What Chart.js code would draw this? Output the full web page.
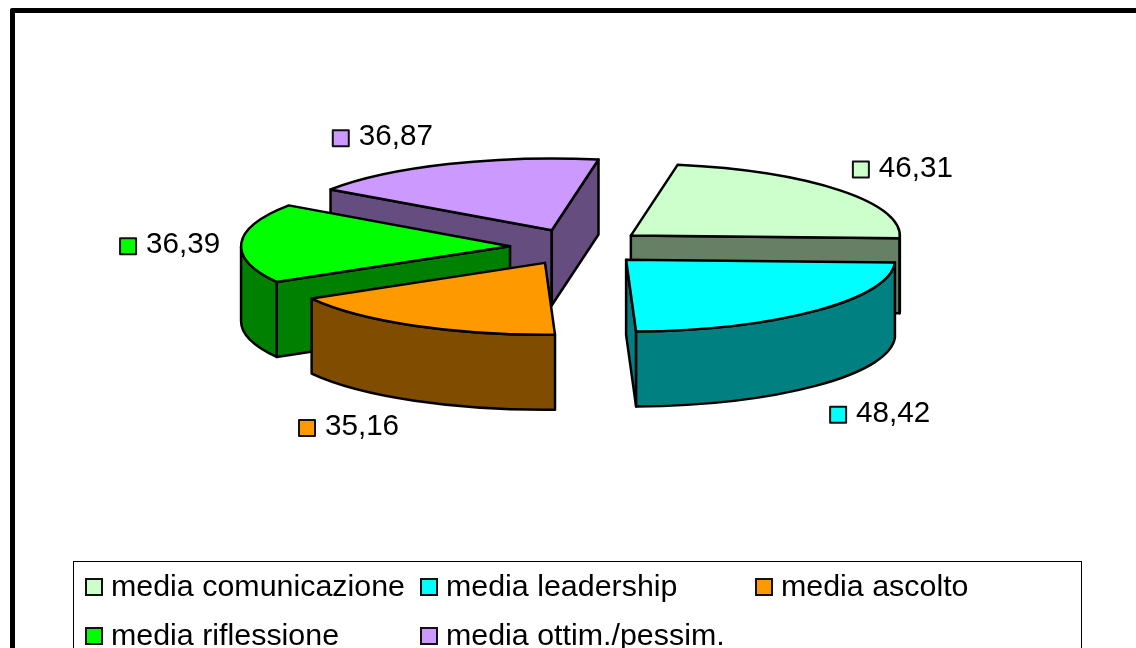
<!DOCTYPE html>
<html lang="it">
<head>
<meta charset="utf-8">
<title>Medie</title>
<script src="https://cdn.jsdelivr.net/npm/chart.js@4/dist/chart.umd.min.js"></script>
<style>
    html, body { margin: 0; padding: 0; background: #fff; overflow: hidden; }
    #wrap { position: relative; width: 1136px; height: 648px; overflow: hidden; }
    #frame { position: absolute; left: 10px; top: 8px; width: 1200px; height: 700px; border: 5px solid #000; border-radius: 2px; }
    canvas { position: absolute; left: 0; top: 0; }
    #legendBox {
        position: absolute; left: 73px; top: 561px; width: 1007px; height: 120px;
        border: 1px solid #000; font: 30.4px "Liberation Sans", Arial, sans-serif; color: #000;
    }
    .legend-item { position: absolute; white-space: nowrap; line-height: 34px; }
    .legend-key { position: absolute; left: 0; top: 10px; width: 14px; height: 14px; border: 2px solid #111; }
    .legend-item span.txt { margin-left: 26px; }
</style>
</head>
<body>
<div id="wrap">
    <div id="frame"></div>
    <canvas id="pieChart" width="1136" height="648"></canvas>
    <div id="legendBox"></div>
</div>
<script>
const categories = ['media comunicazione', 'media leadership', 'media ascolto', 'media riflessione', 'media ottim./pessim.'];
const values = [46.31, 48.42, 35.16, 36.39, 36.87];
const topColors = ['#CCFFCC', '#00FFFF', '#FF9900', '#00FF00', '#CC99FF'];
const sideColors = ['#668066', '#008080', '#804D00', '#008000', '#664D80'];

// aspetto della torta 3D
const squash = 0.267;
const depth = 75;
const explode = 68;
const centerY = 247;
// ordine di disegno, dal fondo verso il davanti
const paintOrder = [0, 4, 3, 2, 1];
// posizione del quadratino rispetto al vertice della fetta
const labelNudge = [[230, -66], [212, 155], [-238, 165], [-382, 0], [-211, -92]];

function drawSlice(ctx, el, i) {
    const start = el.startAngle;
    const end = el.endAngle;
    const mid = (start + end) / 2;
    const r = el.outerRadius;
    const x = el.x + Math.cos(mid) * explode;
    const y = centerY + Math.sin(mid) * explode * squash;
    const rimX = a => x + Math.cos(a) * r;
    const rimY = a => y + Math.sin(a) * r * squash;

    ctx.lineWidth = 2.5;
    ctx.lineJoin = 'round';
    ctx.strokeStyle = '#000';
    ctx.fillStyle = sideColors[i];

    // pareti radiali, solo quelle rivolte verso chi guarda
    const walls = [];
    if (Math.cos(start) < 0) walls.push(start);
    if (Math.cos(end) > 0) walls.push(end);
    walls.forEach(a => {
        ctx.beginPath();
        ctx.moveTo(x, y);
        ctx.lineTo(rimX(a), rimY(a));
        ctx.lineTo(rimX(a), rimY(a) + depth);
        ctx.lineTo(x, y + depth);
        ctx.closePath();
        ctx.fill();
        ctx.stroke();
    });

    // parete esterna, solo la parte davanti
    const a0 = Math.max(start, 0);
    const a1 = Math.min(end, Math.PI);
    if (a1 > a0) {
        ctx.beginPath();
        ctx.ellipse(x, y, r, r * squash, 0, a0, a1);
        ctx.ellipse(x, y + depth, r, r * squash, 0, a1, a0, true);
        ctx.closePath();
        ctx.fill();
        ctx.stroke();
    }

    // faccia superiore: la riempie l'arco di Chart.js
    ctx.save();
    ctx.translate(x - el.x, y);
    ctx.scale(1, squash);
    ctx.translate(0, -el.y);
    el.draw(ctx);
    ctx.restore();

    ctx.beginPath();
    ctx.moveTo(x, y);
    ctx.ellipse(x, y, r, r * squash, 0, start, end);
    ctx.closePath();
    ctx.stroke();
}

function drawLabel(ctx, el, i) {
    const mid = (el.startAngle + el.endAngle) / 2;
    const keyX = el.x + Math.cos(mid) * explode + labelNudge[i][0];
    const keyY = centerY + Math.sin(mid) * explode * squash + labelNudge[i][1];
    ctx.fillStyle = topColors[i];
    ctx.strokeStyle = '#111';
    ctx.lineWidth = 2;
    ctx.fillRect(keyX - 8, keyY - 8, 16, 16);
    ctx.strokeRect(keyX - 8, keyY - 8, 16, 16);
    ctx.fillStyle = '#000';
    ctx.font = '29.6px "Liberation Sans", Arial, sans-serif';
    ctx.textAlign = 'left';
    ctx.textBaseline = 'middle';
    ctx.fillText(values[i].toFixed(2).replace('.', ','), keyX + 18, keyY - 1);
}

const pie3d = {
    id: 'pie3d',
    beforeDatasetDraw(chart, args) {
        const ctx = chart.ctx;
        const arcs = args.meta.data;
        paintOrder.forEach(i => drawSlice(ctx, arcs[i], i));
        paintOrder.forEach(i => drawLabel(ctx, arcs[i], i));
        return false;
    }
};

new Chart(document.getElementById('pieChart'), {
    type: 'pie',
    data: {
        labels: categories,
        datasets: [{
            data: values,
            backgroundColor: topColors,
            borderWidth: 0
        }]
    },
    options: {
        responsive: false,
        animation: false,
        rotation: 10,
        radius: 269,
        layout: { padding: { left: 20, bottom: 154 } },
        plugins: {
            legend: { display: false },
            tooltip: { enabled: false }
        }
    },
    plugins: [pie3d]
});

// legenda HTML su tre colonne
const legendBox = document.getElementById('legendBox');
categories.forEach((name, i) => {
    const item = document.createElement('div');
    item.className = 'legend-item';
    item.style.left = (11 + (i % 3) * 335) + 'px';
    item.style.top = (6 + Math.floor(i / 3) * 49) + 'px';
    const key = document.createElement('span');
    key.className = 'legend-key';
    key.style.background = topColors[i];
    const txt = document.createElement('span');
    txt.className = 'txt';
    txt.textContent = name;
    item.appendChild(key);
    item.appendChild(txt);
    legendBox.appendChild(item);
});
</script>
</body>
</html>
